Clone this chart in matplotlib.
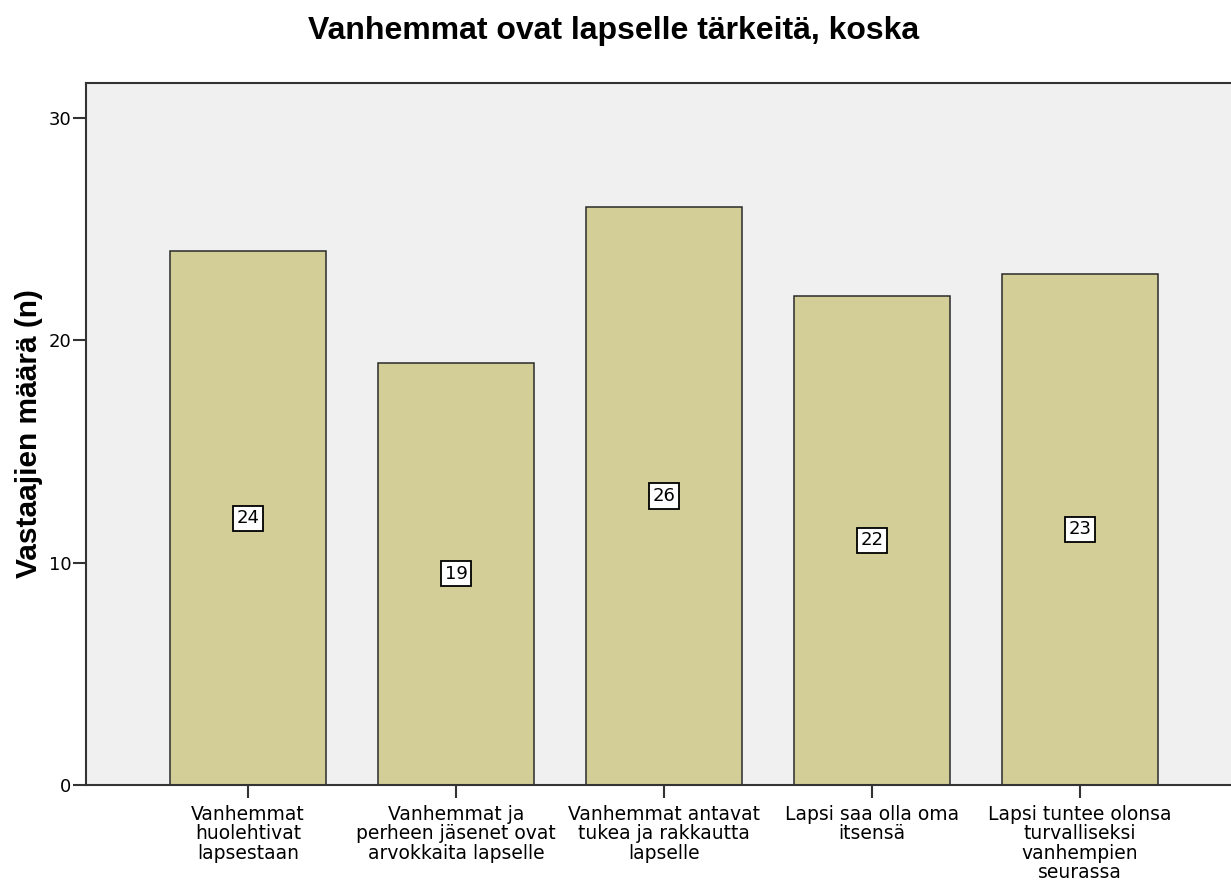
import matplotlib
matplotlib.use("Agg")
import matplotlib.pyplot as plt

categories = [
    "Vanhemmat\nhuolehtivat\nlapsestaan",
    "Vanhemmat ja\nperheen jäsenet ovat\narvokkaita lapselle",
    "Vanhemmat antavat\ntukea ja rakkautta\nlapselle",
    "Lapsi saa olla oma\nitsensä",
    "Lapsi tuntee olonsa\nturvalliseksi\nvanhempien\nseurassa",
]
values = [24, 19, 26, 22, 23]
yticks = [0, 10, 20, 30]

plt.rcParams['font.family'] = ['DejaVu Sans']

W, H = 1231, 889
fig = plt.figure(figsize=(W / 100, H / 100), dpi=100)
left, bottom, top = 86, 785, 83
right = 1242
ax = fig.add_axes([left / W, 1 - bottom / H, (right - left) / W, (bottom - top) / H])
ax.set_facecolor('#F0F0F0')

x = list(range(len(values)))
ax.bar(x, values, width=0.75, color='#D3CE97', edgecolor='#2a2a2a', linewidth=1.1, zorder=2)
for xi, v in zip(x, values):
    ax.text(xi, v / 2, str(v), ha='center', va='center', fontsize=13, zorder=3,
            bbox=dict(boxstyle='square,pad=0.2', facecolor='white', edgecolor='black', linewidth=1.3))

ax.set_xlim(-0.78, 4.78)
ax.set_ylim(0, 31.58)
ax.set_yticks(yticks)
ax.set_yticklabels([str(t) for t in yticks], fontsize=13)
ax.set_xticks(x)
ax.set_xticklabels(categories, fontsize=13.5, linespacing=1.02)
ax.tick_params(axis='both', direction='out', length=9.5, width=1.5, color='#333333')
ax.tick_params(axis='x', pad=5)
ax.tick_params(axis='y', pad=1)
for s in ax.spines.values():
    s.set_linewidth(1.5)
    s.set_color('#333333')

ax.set_ylabel("Vastaajien määrä (n)", fontsize=21.5, fontweight='bold', labelpad=4,
              family=['Liberation Sans', 'DejaVu Sans'])
fig.text(613.5 / W, 1 - 39 / H, "Vanhemmat ovat lapselle tärkeitä, koska", ha='center', va='baseline',
         fontsize=23, fontweight='bold', family=['Liberation Sans', 'DejaVu Sans'])

fig.savefig("out.png", dpi=100)
